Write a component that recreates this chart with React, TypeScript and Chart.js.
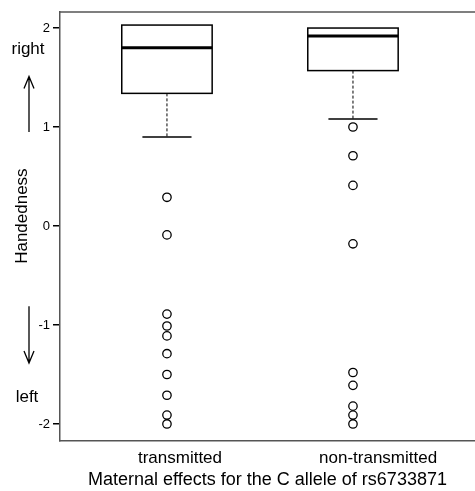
import React, { useEffect, useRef } from 'react';
import { Chart, registerables } from 'chart.js';

Chart.register(...registerables);

// ---- data ----
const categories = ['transmitted', 'non-transmitted'];
const lowerWhisker = [0.9, 1.08];
const q1 = [1.34, 1.57];
const median = [1.8, 1.92];
const q3 = [2.03, 2.0];
const upperWhisker = [2.03, 2.0];
const outliersTransmitted = [0.29, -0.09, -0.89, -1.01, -1.11, -1.29, -1.5, -1.71, -1.91, -2.0];
const outliersNonTransmitted = [1.0, 0.71, 0.41, -0.18, -1.48, -1.61, -1.82, -1.91, -2.0];
const yTicks = [-2, -1, 0, 1, 2];

// ---- layout constants ----
const FONT = '"Liberation Sans", Arial, Helvetica, sans-serif';
const BOX_HALF = 0.243;
const CAP_HALF = 0.132;
const LABEL_SHIFT = [0.07, 0.135];

const boxPlugin = {
  id: 'boxes',
  beforeDatasetsDraw(chart: any) {
    const { ctx, scales, chartArea } = chart;
    const x = scales.x;
    const y = scales.y;
    ctx.save();
    // top frame line
    ctx.strokeStyle = '#555';
    ctx.lineWidth = 1.5;
    ctx.beginPath();
    ctx.moveTo(chartArea.left, chartArea.top);
    ctx.lineTo(chartArea.right, chartArea.top);
    ctx.stroke();

    categories.forEach((_, i) => {
      const cx = x.getPixelForValue(i + 1);
      const half = x.getPixelForValue(i + 1 + BOX_HALF) - cx;
      const capHalf = x.getPixelForValue(i + 1 + CAP_HALF) - cx;
      const yq1 = y.getPixelForValue(q1[i]);
      const yq3 = y.getPixelForValue(q3[i]);
      const ymed = y.getPixelForValue(median[i]);
      const ylw = y.getPixelForValue(lowerWhisker[i]);
      const yuw = y.getPixelForValue(upperWhisker[i]);

      ctx.strokeStyle = '#000';
      // whiskers
      ctx.lineWidth = 1;
      ctx.setLineDash([3, 2]);
      ctx.beginPath();
      ctx.moveTo(cx, yq1);
      ctx.lineTo(cx, ylw);
      if (upperWhisker[i] > q3[i]) {
        ctx.moveTo(cx, yq3);
        ctx.lineTo(cx, yuw);
      }
      ctx.stroke();
      ctx.setLineDash([]);
      // caps
      ctx.lineWidth = 1.5;
      ctx.beginPath();
      ctx.moveTo(cx - capHalf, ylw);
      ctx.lineTo(cx + capHalf, ylw);
      if (upperWhisker[i] > q3[i]) {
        ctx.moveTo(cx - capHalf, yuw);
        ctx.lineTo(cx + capHalf, yuw);
      }
      ctx.stroke();
      // box
      ctx.fillStyle = '#fff';
      ctx.fillRect(cx - half, yq3, half * 2, yq1 - yq3);
      ctx.strokeRect(cx - half, yq3, half * 2, yq1 - yq3);
      // median
      ctx.lineWidth = 3;
      ctx.beginPath();
      ctx.moveTo(cx - half, ymed);
      ctx.lineTo(cx + half, ymed);
      ctx.stroke();
    });
    ctx.restore();
  },
};

const annotPlugin = {
  id: 'annot',
  afterDraw(chart: any) {
    const { ctx, scales } = chart;
    const y = scales.y;
    ctx.save();
    ctx.fillStyle = '#000';
    ctx.strokeStyle = '#000';
    ctx.lineWidth = 1.3;
    ctx.font = `17px ${FONT}`;
    ctx.textAlign = 'center';
    ctx.textBaseline = 'middle';
    ctx.fillText('right', 28, y.getPixelForValue(1.78));
    ctx.fillText('left', 27, y.getPixelForValue(-1.73));

    const arrow = (ax: number, from: number, to: number) => {
      const dir = to < from ? 1 : -1;
      ctx.beginPath();
      ctx.moveTo(ax, from);
      ctx.lineTo(ax, to);
      ctx.moveTo(ax - 5, to + dir * 12);
      ctx.lineTo(ax, to);
      ctx.lineTo(ax + 5, to + dir * 12);
      ctx.stroke();
    };
    arrow(29, y.getPixelForValue(0.95), y.getPixelForValue(1.51));
    arrow(29, y.getPixelForValue(-0.81), y.getPixelForValue(-1.385));

    ctx.save();
    ctx.translate(22, y.getPixelForValue(0.1));
    ctx.rotate(-Math.PI / 2);
    ctx.fillText('Handedness', 0, 0);
    ctx.restore();
    ctx.restore();
  },
};

const pointStyle = {
  pointRadius: 4.2,
  pointBorderWidth: 1.3,
  pointBorderColor: '#000',
  pointBackgroundColor: '#fff',
  showLine: false,
};

export default function App() {
  const ref = useRef<HTMLCanvasElement>(null);
  useEffect(() => {
    if (!ref.current) return;
    const chart = new Chart(ref.current, {
      type: 'scatter',
      data: {
        datasets: [
          { data: outliersTransmitted.map((v) => ({ x: 1, y: v })), ...pointStyle },
          { data: outliersNonTransmitted.map((v) => ({ x: 2, y: v })), ...pointStyle },
        ],
      },
      options: {
        animation: false,
        responsive: false,
        layout: { autoPadding: false, padding: { top: 12, right: 0, left: 0, bottom: 0 } },
        plugins: { legend: { display: false }, tooltip: { enabled: false } },
        scales: {
          x: {
            type: 'linear',
            min: 0.425,
            max: 2.656,
            afterBuildTicks: (s: any) => {
              s.ticks = categories.map((_, i) => ({ value: i + 1 + LABEL_SHIFT[i] }));
            },
            afterFit: (s: any) => {
              s.height = 50;
              s.paddingLeft = 0;
              s.paddingRight = 0;
            },
            ticks: {
              autoSkip: false,
              maxRotation: 0,
              padding: 7,
              color: '#000',
              font: { size: 17, family: FONT },
              callback: (_v: any, idx: number) => categories[idx],
            },
            grid: { display: false, drawTicks: false },
            border: { display: true, color: '#555', width: 1.5 },
            title: {
              display: true,
              text: 'Maternal effects for the C allele of rs6733871',
              color: '#000',
              font: { size: 18, family: FONT },
              padding: 0,
            },
          },
          y: {
            type: 'linear',
            min: -2.172,
            max: 2.162,
            afterBuildTicks: (s: any) => {
              s.ticks = yTicks.map((v) => ({ value: v }));
            },
            afterFit: (s: any) => {
              s.width = 60;
              s.paddingTop = 0;
              s.paddingBottom = 0;
            },
            ticks: {
              padding: 3,
              color: '#000',
              font: { size: 13, family: FONT },
              callback: (v: any) => String(v),
            },
            grid: { drawOnChartArea: false, drawTicks: true, tickLength: 7, color: '#000', lineWidth: 1.5 },
            border: { display: true, color: '#555', width: 1.5 },
          },
        },
      },
      plugins: [boxPlugin, annotPlugin],
    } as any);
    return () => chart.destroy();
  }, []);

  return (
    <div style={{ position: 'fixed', left: 0, top: 0, width: 475, height: 491, background: '#fff' }}>
      <canvas ref={ref} width={475} height={491} style={{ display: 'block' }} />
    </div>
  );
}
